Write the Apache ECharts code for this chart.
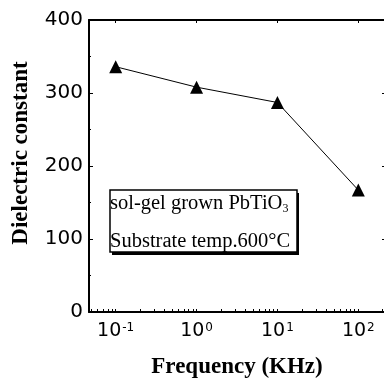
<!DOCTYPE html>
<html>
<head>
<meta charset="utf-8">
<script src="https://cdn.jsdelivr.net/npm/echarts@6/dist/echarts.min.js"></script>
<style>
  html, body { margin: 0; padding: 0; background: #fff; }
  #chart { width: 384px; height: 383px; }
</style>
</head>
<body>
<div id="chart"></div>
<script>
// frequency in KHz and measured dielectric constant
const frequency = [0.1, 1, 10, 100];
const dielectric = [336, 308, 287, 167];
const decadeLabels = [-1, 0, 1, 2];
const legendLines = ["sol-gel grown PbTiO{sub|3}", "Substrate temp.600\u00b0C"];

// log-scale ticks: decades plus minor 2..9
const minorTicks = [];
for (let d = -2; d <= 2; d++) {
  for (let m = 1; m <= 9; m++) {
    const v = d + Math.log10(m);
    if (v > -1.34 && v < 2.33) minorTicks.push(v);
  }
}

const chart = echarts.init(document.getElementById("chart"));

const axisFont = "DejaVu Sans, Arial, sans-serif";
const serif = "Liberation Serif, Times New Roman, serif";

chart.setOption({
  animation: false,
  grid: { left: 89, top: 20, right: -1, bottom: 71, outerBoundsMode: "none", containLabel: false },
  xAxis: [
    {
      type: "value",
      min: -1.33,
      max: 2.33,
      name: "Frequency (KHz)",
      nameLocation: "middle",
      nameGap: 44,
      nameTextStyle: { fontFamily: serif, fontWeight: "bold", fontSize: 23, color: "#000" },
      axisLine: { onZero: false, lineStyle: { color: "#000", width: 2 } },
      axisTick: { show: true, inside: true, length: 3, customValues: minorTicks, lineStyle: { color: "#000" } },
      splitLine: { show: false },
      axisLabel: {
        customValues: decadeLabels,
        margin: 10,
        fontFamily: axisFont,
        fontSize: 19,
        color: "#000",
        formatter: (v) => "10{sup|" + v + "}",
        rich: { sup: { fontSize: 12, verticalAlign: "top", padding: [0, 0, 6, 1], fontFamily: axisFont, color: "#000" } }
      }
    },
    {
      type: "value",
      position: "top",
      min: -1.33,
      max: 2.33,
      axisLine: { show: true, onZero: false, lineStyle: { color: "#000", width: 2 } },
      axisTick: { show: true, inside: true, length: 3, customValues: decadeLabels, lineStyle: { color: "#000" } },
      axisLabel: { show: false },
      splitLine: { show: false }
    }
  ],
  yAxis: [
    {
      type: "value",
      min: 0,
      max: 400,
      interval: 100,
      name: "Dielectric constant",
      nameLocation: "middle",
      nameGap: 56,
      nameTextStyle: { fontFamily: serif, fontWeight: "bold", fontSize: 23, color: "#000", padding: [0, 0, 0, 26] },
      axisLine: { show: true, onZero: false, lineStyle: { color: "#000", width: 2 } },
      axisTick: { show: true, inside: true, length: 4, lineStyle: { color: "#000" } },
      minorTick: { show: true, splitNumber: 2, length: 2, lineStyle: { color: "#000" } },
      splitLine: { show: false },
      axisLabel: { margin: 6, fontFamily: axisFont, fontSize: 20, color: "#000" }
    },
    {
      type: "value",
      position: "right",
      min: 0,
      max: 400,
      interval: 100,
      axisLine: { show: false, onZero: false },
      axisTick: { show: true, inside: true, length: 3, lineStyle: { color: "#000" } },
      axisLabel: { show: false },
      splitLine: { show: false }
    }
  ],
  series: [
    {
      type: "line",
      data: frequency.map((f, i) => [Math.log10(f), dielectric[i]]),
      symbol: "triangle",
      symbolSize: 13,
      itemStyle: { color: "#000" },
      lineStyle: { color: "#000", width: 1 },
      z: 3
    }
  ],
  graphic: [
    {
      type: "rect",
      shape: { x: 112, y: 193, width: 187, height: 62 },
      style: { fill: "#000" }
    },
    {
      type: "rect",
      shape: { x: 110, y: 190, width: 187, height: 62 },
      style: { fill: "#fff", stroke: "#000", lineWidth: 1.5 }
    },
    {
      type: "text",
      left: 110,
      top: 193,
      style: {
        text: legendLines[0],
        font: "20.5px " + serif,
        fill: "#000",
        rich: { sub: { fontSize: 12, verticalAlign: "bottom", padding: [10, 0, 0, 0], fontFamily: serif, fill: "#000" } }
      }
    },
    {
      type: "text",
      left: 110,
      top: 231,
      style: { text: legendLines[1], font: "20.5px " + serif, fill: "#000" }
    }
  ]
});
</script>
</body>
</html>
